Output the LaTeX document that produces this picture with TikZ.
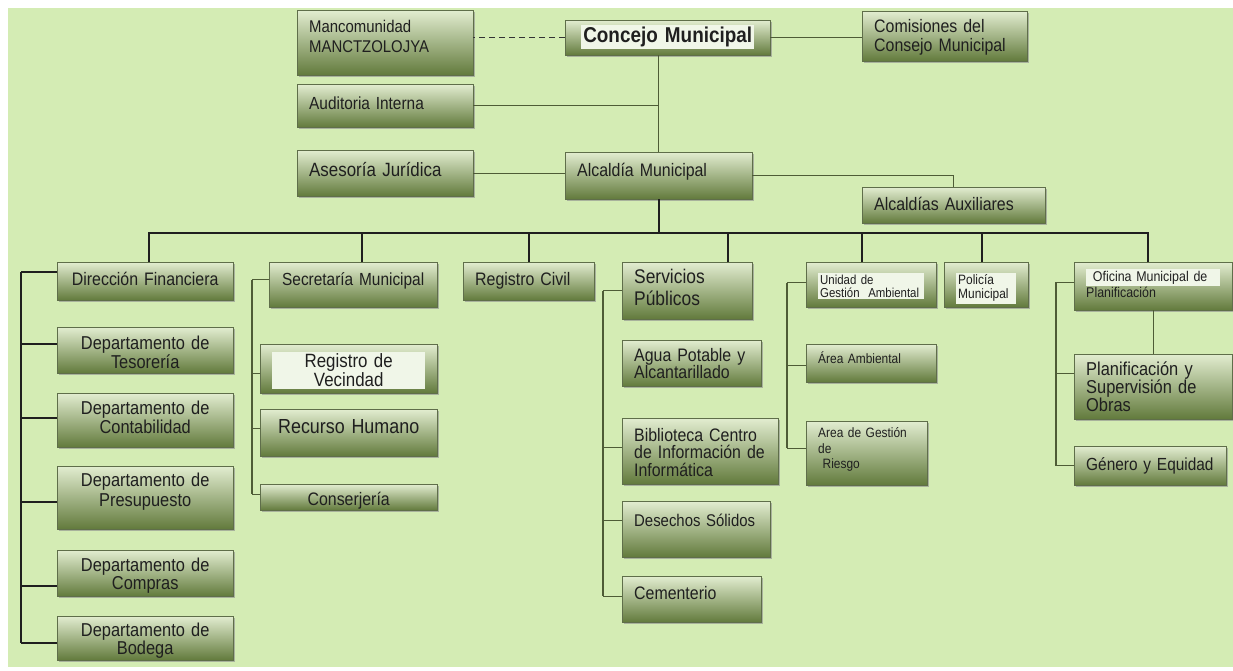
\documentclass[tikz,border=0pt]{standalone}
\usepackage{fontspec}
\setmainfont{Liberation Sans}[FakeStretch=0.88, Scale=1.13]
\usepackage{tikz}
\tikzset{>=latex}
\usetikzlibrary{shadows}
\usetikzlibrary{calc}
\setlength{\fboxsep}{2pt}
\definecolor{sheet green}{HTML}{D4ECB4}
\definecolor{box top}{HTML}{E2EDD0}
\definecolor{box bottom}{HTML}{627A3C}
\definecolor{box edge}{HTML}{5F6E4A}
\definecolor{olive line}{HTML}{4E5C36}
\definecolor{label glow}{HTML}{F0F6E8}

\begin{document}
\begin{tikzpicture}[x=1pt, y=-1pt]
    \tikzset{unit/.style={draw=box edge, top color=box top, bottom color=box bottom, anchor=north west, inner xsep=12pt, inner ysep=0pt, align=left, text=black!88, drop shadow={shadow xshift=2pt, shadow yshift=-2pt, fill=black!45, opacity=0.6}}}
    \tikzset{fs/.style 2 args={font={\fontsize{#1}{#2}\selectfont}}}
    \tikzset{link/.style={olive line, line width=1.1pt}}
    \tikzset{trunk/.style={black!88, line width=1.8pt}}
    \useasboundingbox (0,0) rectangle (1233,670);
    \fill[white] (0,0) rectangle (1233,670);
    \fill[sheet green] (8,8) rectangle (1233,667);

    \node[unit, fs={15}{20}, text width=152pt, text height=22pt, text depth=43pt] (manc) at (297,10) {Mancomunidad\\MANCTZOLOJYA};
    \node[unit, align=center, fs={19}{21}, text width=181pt, text height=22pt, text depth=13pt] (concejo) at (565,20) {\colorbox{label glow}{\bfseries Concejo Municipal}};
    \node[unit, fs={16}{19}, text width=141pt, text height=21pt, text depth=29pt] (comis) at (862,11) {Comisiones del\\Consejo Municipal};
    \node[unit, fs={15.5}{18}, text width=152pt, text height=25pt, text depth=18pt] (audit) at (297,84) {Auditoria Interna};
    \node[unit, fs={17}{20}, text width=152pt, text height=26.5pt, text depth=19.5pt] (asesor) at (297,150) {Asesoría Jurídica};
    \node[unit, fs={16}{18}, text width=163pt, text height=24pt, text depth=23pt] (alcaldia) at (565,152) {Alcaldía Municipal};
    \node[unit, fs={16}{18}, text width=159pt, text height=23pt, text depth=13pt] (auxil) at (862,187) {Alcaldías Auxiliares};

    \node[unit, align=center, fs={16}{18}, text width=152pt, text height=23pt, text depth=15pt] (dirfin) at (57,262) {Dirección Financiera};
    \node[unit, align=center, fs={16.5}{17}, text width=152pt, text height=22.5pt, text depth=23.5pt] (tesor) at (57,327) {Departamento de\\Tesorería};
    \node[unit, align=center, fs={16.5}{19}, text width=152pt, text height=21.5pt, text depth=32.5pt] (contab) at (57,393) {Departamento de\\Contabilidad};
    \node[unit, align=center, fs={16.5}{20}, text width=152pt, text height=20.5pt, text depth=42.5pt] (presup) at (57,466) {Departamento de\\Presupuesto};
    \node[unit, align=center, fs={16.5}{18}, text width=152pt, text height=21.5pt, text depth=24.5pt] (compras) at (57,550) {Departamento de\\Compras};
    \node[unit, align=center, fs={16.5}{18}, text width=152pt, text height=20.5pt, text depth=23.5pt] (bodega) at (57,616) {Departamento de\\Bodega};

    \node[unit, align=center, fs={15.5}{18}, text width=144pt, text height=23pt, text depth=22pt] (secret) at (269,262) {Secretaría Municipal};
    \node[unit, align=center, fs={17}{17}, text width=153pt, text height=23.5pt, text depth=25.5pt] (regvec) at (260,344) {\colorbox{label glow}{\parbox[t]{149pt}{\centering Registro de\\Vecindad}}};
    \node[unit, align=center, fs={18}{20}, text width=153pt, text height=24.5pt, text depth=22.5pt] (rechum) at (260,409) {Recurso Humano};
    \node[unit, align=center, fs={16}{18}, text width=153pt, text height=21pt, text depth=5pt] (conser) at (260,484) {Conserjería};

    \node[unit, fs={16}{18}, text width=107pt, text height=23pt, text depth=15pt] (regciv) at (463,262) {Registro Civil};

    \node[unit, fs={17.5}{22}, text width=106pt, text height=21pt, text depth=36pt] (servpub) at (622,262) {Servicios\\Públicos};
    \node[unit, fs={16}{17}, text width=115pt, text height=21pt, text depth=25pt] (agua) at (622,340) {Agua Potable y\\Alcantarillado};
    \node[unit, fs={16}{17.5}, text width=132pt, text height=23pt, text depth=43pt] (biblio) at (622,418) {Biblioteca Centro\\de Información de\\Informática};
    \node[unit, fs={15}{18}, text width=124pt, text height=25pt, text depth=31pt] (desech) at (622,501) {Desechos Sólidos};
    \node[unit, fs={16}{18}, text width=115pt, text height=23pt, text depth=23pt] (cement) at (622,576) {Cementerio};

    \node[unit, fs={11.5}{13}, text width=106pt, text height=22pt, text depth=23pt] (unidad) at (806,262) {\colorbox{label glow}{\parbox[t]{102pt}{Unidad de\\Gestión\ \ Ambiental}}};
    \node[unit, fs={12}{14}, text width=106pt, text height=19.6pt, text depth=18.4pt] (aamb) at (806,344) {Área Ambiental};
    \node[unit, fs={12}{15.5}, text width=97pt, text height=16.6pt, text depth=47.4pt] (riesgo) at (806,421) {Area de Gestión\\de\\\ Riesgo};
    \node[unit, fs={12}{14}, text width=60pt, text height=22.6pt, text depth=22.4pt] (policia) at (944,262) {\colorbox{label glow}{\parbox[t]{56pt}{Policía\\Municipal}}};

    \node[unit, fs={12.5}{16}, text width=134pt, text height=19pt, text depth=29pt] (oficina) at (1074,262) {\colorbox{label glow}{\makebox[130pt][l]{\ Oficina Municipal de}}\\Planificación};
    \node[unit, fs={16.5}{18}, text width=134pt, text height=21.3pt, text depth=43.7pt] (planif) at (1074,354) {Planificación y\\Supervisión de\\Obras};
    \node[unit, fs={15.5}{18}, text width=128pt, text height=24pt, text depth=15pt] (genero) at (1074,446) {Género y Equidad};

    \draw[black!80, line width=1.5pt, dash pattern=on 6pt off 4pt] (concejo.west) -- (concejo.west -| manc.east);
    \draw[link] (concejo.east) -- (concejo.east -| comis.west);
    \draw[link] (concejo.south -| alcaldia.north) -- (alcaldia.north);
    \draw[link] (audit.east) -- (audit.east -| alcaldia.north);
    \draw[link] (asesor.east) -- (asesor.east -| alcaldia.west);
    \draw[link] (alcaldia.east) -| (auxil.north);

    \coordinate (bus) at (658,233);
    \draw[trunk] (alcaldia.south) -- (alcaldia.south |- bus);
    \foreach \n/\s in {dirfin/4, secret/9, regciv/0, servpub/41, unidad/-9, policia/-4, oficina/-5}
        \draw[trunk] ([xshift=\s pt]\n.north) |- (bus);

    \foreach \n/\s in {dirfin/9, tesor/6, contab/2, presup/-4, compras/-13, bodega/-5}
        \draw[trunk] ([yshift=\s pt]\n.west) -- ++(-36,0);
    \draw[trunk] ($([yshift=9pt]dirfin.west)+(-36,0)$) -- ($([yshift=-5pt]bodega.west)+(-36,0)$);

    \foreach \n/\s/\l in {secret/5/17, regvec/-5/8, rechum/4/8, conser/3/8}
        \draw[link] ([yshift=\s pt]\n.west) -- ++(-\l,0);
    \draw[link] ($([yshift=5pt]secret.west)+(-17,0)$) -- ($([yshift=3pt]conser.west)+(-8,0)$);

    \foreach \n/\s in {servpub/0, biblio/4, desech/9, cement/3}
        \draw[link] ([yshift=\s pt]\n.west) -- ++(-19,0);
    \draw[link] ($(servpub.west)+(-19,0)$) -- ($([yshift=3pt]cement.west)+(-19,0)$);

    \foreach \n/\s in {unidad/2, aamb/-2, riesgo/5}
        \draw[link] ([yshift=\s pt]\n.west) -- ++(-19,0);
    \draw[link] ($([yshift=2pt]unidad.west)+(-19,0)$) -- ($([yshift=5pt]riesgo.west)+(-19,0)$);

    \foreach \n/\s in {oficina/4, planif/13, genero/0}
        \draw[link] ([yshift=\s pt]\n.west) -- ++(-18,0);
    \draw[link] ($([yshift=4pt]oficina.west)+(-18,0)$) -- ($(genero.west)+(-18,0)$);
    \draw[link] (oficina.south) -- (planif.north);
\end{tikzpicture}
\end{document}
